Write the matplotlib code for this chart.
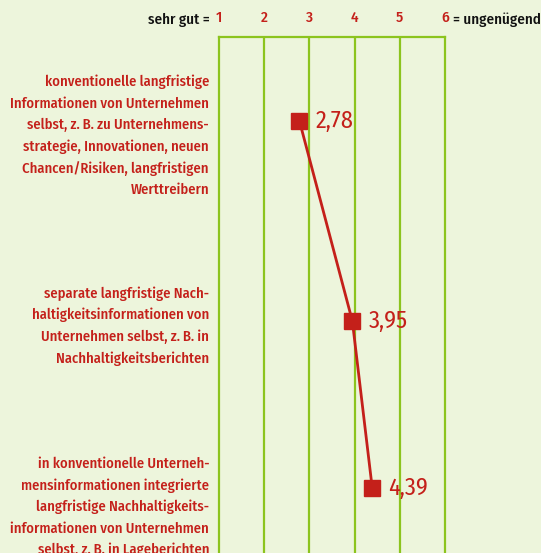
import matplotlib
matplotlib.use('Agg')
import matplotlib.pyplot as plt

# data
categories = [
    'konventionelle langfristige\nInformationen von Unternehmen\nselbst, z.\u2009B. zu Unternehmens-\nstrategie, Innovationen, neuen\nChancen/Risiken, langfristigen\nWerttreibern',
    'separate langfristige Nach-\nhaltigkeitsinformationen von\nUnternehmen selbst, z.\u2009B. in\nNachhaltigkeitsberichten',
    'in konventionelle Unterneh-\nmensinformationen integrierte\nlangfristige Nachhaltigkeits-\ninformationen von Unternehmen\nselbst, z.\u2009B. in Lageberichten',
]
scores = [2.78, 3.95, 4.39]
scale_ticks = [1, 2, 3, 4, 5, 6]
scale_low = 'sehr gut ='
scale_high = '= ungen\u00fcgend'

# layout (row positions and label offsets)
row_pos = [0.0, 1.0, 1.835]
label_shift = [0.075, 0.025, 0.095]

RED = '#c4201a'
GREEN = '#8cc41e'
BG = '#edf5dc'
FONT = ['Fira Sans Condensed', 'DejaVu Sans']

plt.rcParams['font.family'] = FONT

fig = plt.figure(figsize=(5.41, 5.53), dpi=100, facecolor=BG)
W, H = 541, 553
ax = fig.add_axes([219 / W, 0, (445 - 219) / W, (553 - 37) / H])
ax.set_facecolor(BG)
ax.set_xlim(1, 6)
ax.set_ylim(2.16, -0.42)

for s in ['left', 'right', 'top']:
    ax.spines[s].set_color(GREEN)
    ax.spines[s].set_linewidth(1.6)
ax.spines['bottom'].set_visible(False)
for t in scale_ticks[1:-1]:
    ax.axvline(t, color=GREEN, lw=1.6, zorder=1)

ax.xaxis.tick_top()
ax.set_xticks(scale_ticks)
ax.set_xticklabels([str(t) for t in scale_ticks], color=RED, fontsize=11,
                   fontweight='medium')
ax.tick_params(axis='x', length=0, pad=9)
ax.set_yticks([])

ax.annotate(scale_low, xy=(0, 1), xycoords='axes fraction', xytext=(-9, 17),
            textcoords='offset pixels', ha='right', va='center', fontsize=10.8,
            fontweight='medium', color='#111111')
ax.annotate(scale_high, xy=(1, 1), xycoords='axes fraction', xytext=(8, 17),
            textcoords='offset pixels', ha='left', va='center', fontsize=10.8,
            fontweight='medium', color='#111111', annotation_clip=False)

ax.plot(scores, row_pos, color=RED, lw=2, zorder=3, clip_on=False)
ax.plot(scores, row_pos, 's', color=RED, ms=11.5, zorder=4, clip_on=False)

for cat, sc, y, sh in zip(categories, scores, row_pos, label_shift):
    ax.annotate(str(sc).replace('.', ','), xy=(sc, y), xytext=(16, 0),
                textcoords='offset pixels', ha='left', va='center',
                fontsize=17.5, color=RED, zorder=5)
    ax.annotate(cat, xy=(0, y + sh), xycoords=('axes fraction', 'data'),
                xytext=(-10, 0), textcoords='offset pixels', ha='right',
                va='center', fontsize=10.5, fontweight='medium', color=RED,
                linespacing=1.63, annotation_clip=False)

fig.savefig('out.png', dpi=100, facecolor=BG)
